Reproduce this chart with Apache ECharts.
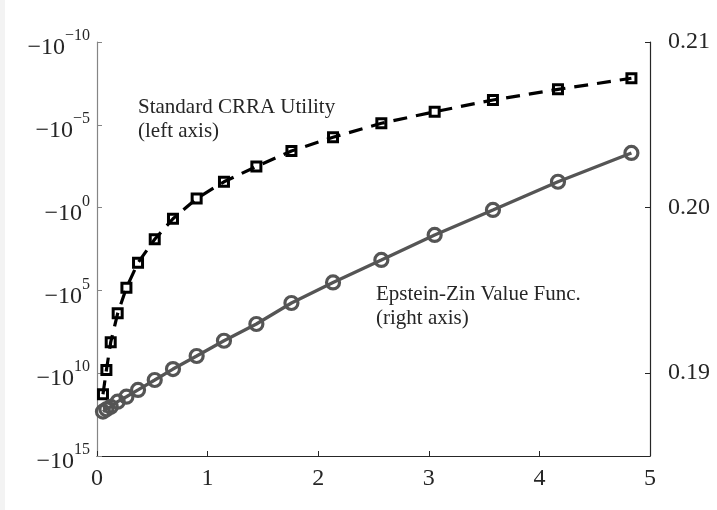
<!DOCTYPE html>
<html>
<head>
<meta charset="utf-8">
<script src="https://cdn.jsdelivr.net/npm/echarts@6/dist/echarts.min.js"></script>
<style>
html,body{margin:0;padding:0;background:#fff;}
#c{width:717px;height:510px;}
</style>
</head>
<body>
<div id="c"></div>
<script>
// wealth grid (x axis)
const xVals = [0.054, 0.085, 0.124, 0.187, 0.266, 0.371, 0.522, 0.687, 0.901, 1.148, 1.441, 1.758, 2.134, 2.571, 3.053, 3.580, 4.168, 4.832];
// Standard CRRA utility: exponent k of -10^k (left axis, log of -u)
const crraExp = [11.27, 9.81, 8.13, 6.38, 4.84, 3.33, 1.91, 0.67, -0.55, -1.56, -2.48, -3.42, -4.25, -5.09, -5.79, -6.50, -7.14, -7.81];
// Epstein-Zin value function (right axis)
const ezVals = [0.18768, 0.18782, 0.18797, 0.18828, 0.18858, 0.18899, 0.18959, 0.19025, 0.19104, 0.19196, 0.19297, 0.19424, 0.19548, 0.19684, 0.19835, 0.19986, 0.20156, 0.20330];
// tick labels
const xTicks = [0, 1, 2, 3, 4, 5];
const leftExpTicks = [-10, -5, 0, 5, 10, 15];
const rightTicks = [0.19, 0.20, 0.21];
const labelCRRA = 'Standard CRRA Utility\n(left axis)';
const labelEZ = 'Epstein-Zin Value Func.\n(right axis)';

const FONT = 'Liberation Serif';
const dark = '#262626';
const MINUS = '\u2212';

const chart = echarts.init(document.getElementById('c'), null, {renderer: 'canvas'});
chart.setOption({
  backgroundColor: '#ffffff',
  animation: false,
  grid: {left: 97, right: 67, top: 42, bottom: 54, containLabel: false},
  xAxis: {
    type: 'value', min: xTicks[0], max: xTicks[xTicks.length - 1], interval: 1,
    axisLine: {show: true, onZero: false, lineStyle: {color: dark, width: 1.2}},
    axisTick: {show: true, inside: true, length: 5, lineStyle: {color: dark}},
    axisLabel: {fontFamily: FONT, fontSize: 24, color: dark, margin: 11},
    splitLine: {show: false}
  },
  yAxis: [
    {
      type: 'value', inverse: true, min: leftExpTicks[0], max: leftExpTicks[leftExpTicks.length - 1], interval: 5,
      position: 'left',
      axisLine: {show: true, onZero: false, lineStyle: {color: '#858585', width: 1.2}},
      axisTick: {show: true, inside: true, length: 5, lineStyle: {color: '#858585'}},
      axisLabel: {
        margin: 7,
        padding: [12, 0, 0, 0],
        formatter: v => '{m|' + MINUS + '10}{s|' + (v < 0 ? MINUS + (-v) : v) + '}',
        rich: {
          m: {fontFamily: FONT, fontSize: 24, lineHeight: 24, color: dark, verticalAlign: 'bottom'},
          s: {fontFamily: FONT, fontSize: 16, lineHeight: 16, color: dark, verticalAlign: 'bottom', padding: [0, 0, 16, 0]}
        }
      },
      splitLine: {show: false}
    },
    {
      type: 'value', min: 0.185, max: 0.21,
      position: 'right',
      axisLine: {show: true, onZero: false, lineStyle: {color: dark, width: 1.2}},
      axisTick: {show: true, inside: true, length: 5, lineStyle: {color: dark}, customValues: rightTicks},
      axisLabel: {fontFamily: FONT, fontSize: 24, color: dark, margin: 18,
        customValues: rightTicks, formatter: v => v.toFixed(2)},
      splitLine: {show: false}
    }
  ],
  series: [
    {
      name: 'CRRA', type: 'line', yAxisIndex: 0,
      data: xVals.map((x, i) => [x, crraExp[i]]),
      lineStyle: {color: '#000', width: 3.2, type: [14, 9]},
      symbol: 'rect', symbolSize: 9,
      itemStyle: {color: 'rgba(255,255,255,0)', borderColor: '#000', borderWidth: 3},
      z: 2
    },
    {
      name: 'EZ', type: 'line', yAxisIndex: 1,
      data: xVals.map((x, i) => [x, ezVals[i]]),
      lineStyle: {color: '#555555', width: 3.3},
      symbol: 'circle', symbolSize: 13,
      itemStyle: {color: 'rgba(255,255,255,0)', borderColor: '#555555', borderWidth: 3.2},
      z: 3
    }
  ],
  graphic: [
    {type: 'rect', left: 0, top: 0, shape: {width: 5, height: 510}, style: {fill: '#f3f3f3'}, z: -10},
    {type: 'text', x: 138, y: 95, style: {text: labelCRRA, font: '21px "Liberation Serif"', fill: dark, lineHeight: 24}},
    {type: 'text', x: 376, y: 282, style: {text: labelEZ, font: '21px "Liberation Serif"', fill: dark, lineHeight: 24}}
  ]
});
</script>
</body>
</html>
